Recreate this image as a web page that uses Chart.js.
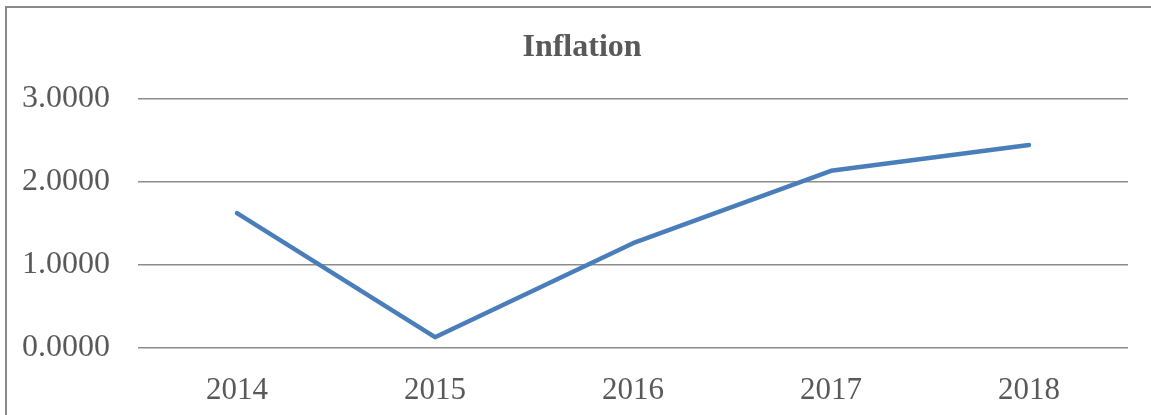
<!DOCTYPE html>
<html>
<head>
<meta charset="utf-8">
<script src="https://cdn.jsdelivr.net/npm/chart.js@4"></script>
<style>
  html, body { margin: 0; padding: 0; width: 1151px; height: 415px; overflow: hidden; background: #fff; }
  #frame { position: absolute; left: 5px; top: 6px; width: 1300px; height: 600px; border: 2px solid #8a8a8a; }
  #wrap { position: absolute; left: 0; top: 0; width: 1151px; height: 415px; }
</style>
</head>
<body>
<div id="frame"></div>
<div id="wrap"><canvas id="c" width="1151" height="415"></canvas></div>
<script>
const years = ['2014', '2015', '2016', '2017', '2018'];
const inflation = [1.62, 0.13, 1.26, 2.13, 2.44];
const yTicks = [0, 1, 2, 3];
const chartTitle = 'Inflation';

const font = "'Liberation Serif', 'Times New Roman', serif";
const shiftTitle = {
  id: 'shiftTitle',
  afterLayout(chart) {
    if (chart.titleBlock) { chart.titleBlock.left = 36; chart.titleBlock.right = 1128; }
  }
};
new Chart(document.getElementById('c'), {
  type: 'line',
  data: {
    labels: years,
    datasets: [{
      label: chartTitle,
      data: inflation,
      borderColor: '#4a7ebb',
      borderWidth: 4.5,
      pointRadius: 0,
      tension: 0,
      fill: false,
      borderCapStyle: 'round',
      borderJoinStyle: 'round'
    }]
  },
  plugins: [shiftTitle],
  options: {
    responsive: false,
    animation: false,
    layout: { padding: { left: 0, right: 23, top: 0, bottom: 0 } },
    plugins: {
      legend: { display: false },
      tooltip: { enabled: false },
      title: {
        display: true,
        text: chartTitle,
        color: '#595959',
        font: { family: font, size: 32, weight: 'bold' },
        padding: { top: 29, bottom: 31 }
      }
    },
    scales: {
      x: {
        offset: true,
        grid: { display: false, drawTicks: false },
        border: { display: false },
        ticks: { color: '#595959', font: { family: font, size: 31 }, padding: 24, maxRotation: 0 },
        afterFit: (s) => { s.height = 67; }
      },
      y: {
        min: 0,
        max: 3,
        afterBuildTicks: (s) => { s.ticks = yTicks.map(v => ({ value: v })); },
        grid: { color: '#8c8c8c', lineWidth: 1.5, drawTicks: false },
        border: { display: false },
        ticks: {
          color: '#595959',
          font: { family: font, size: 32 },
          padding: 28,
          callback: (v) => Number(v).toFixed(4)
        },
        afterFit: (s) => { s.width = 138; }
      }
    }
  }
});
</script>
</body>
</html>
